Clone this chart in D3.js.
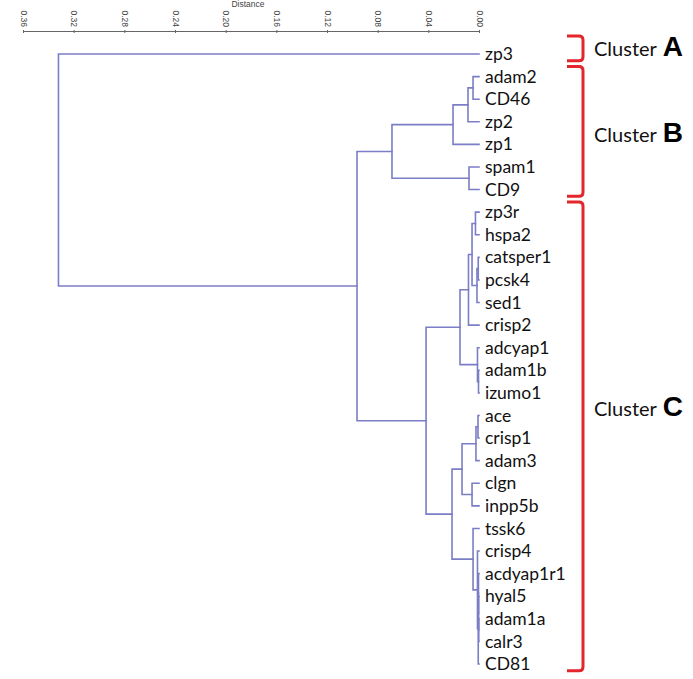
<!DOCTYPE html>
<html>
<head>
<meta charset="utf-8">
<script src="https://cdn.jsdelivr.net/npm/d3@7"></script>
<style>
  html, body { margin: 0; padding: 0; background: #fff; }
  svg { display: block; }
</style>
</head>
<body>
<svg id="chart" width="693" height="679"></svg>
<script>
// ---- data ----
const leaves = ["zp3","adam2","CD46","zp2","zp1","spam1","CD9",
  "zp3r","hspa2","catsper1","pcsk4","sed1","crisp2","adcyap1","adam1b","izumo1",
  "ace","crisp1","adam3","clgn","inpp5b","tssk6","crisp4","acdyap1r1","hyal5","adam1a","calr3","CD81"];

// merges: [node id, left child, right child, distance]
const merges = [
  ["n1","adam2","CD46",0.0047],
  ["n2","n1","zp2",0.0087],
  ["n3","n2","zp1",0.0205],
  ["n4","spam1","CD9",0.0079],
  ["B","n3","n4",0.0687],
  ["c1","zp3r","hspa2",0.0028],
  ["c2","catsper1","pcsk4",0.0006],
  ["c3","c2","sed1",0.0016],
  ["c4","c1","c3",0.0055],
  ["c5","c4","crisp2",0.0083],
  ["c6","adam1b","izumo1",0.0004],
  ["c7","adcyap1","c6",0.0012],
  ["C1","c5","c7",0.0150],
  ["d1","ace","crisp1",0.0008],
  ["d2","d1","adam3",0.0024],
  ["d3","clgn","inpp5b",0.0055],
  ["C2a","d2","d3",0.0134],
  ["e1","adam1a","calr3",0.0002],
  ["e2","hyal5","e1",0.0003],
  ["e3","acdyap1r1","e2",0.0004],
  ["e4","e3","CD81",0.0006],
  ["e5","crisp4","e4",0.0012],
  ["e6","tssk6","e5",0.0047],
  ["C2","C2a","e6",0.0213],
  ["C","C1","C2",0.0418],
  ["BC","B","C",0.0963],
  ["root","zp3","BC",0.332]
];

const axisTicks = [0.36,0.32,0.28,0.24,0.20,0.16,0.12,0.08,0.04,0.00];
const axisTitle = "Distance";

const clusterNames = ["A","B","C"];
const clusterFirst = ["zp3","adam2","zp3r"];
const clusterLast  = ["zp3","CD9","CD81"];

// ---- layout ----
const svg = d3.select("#chart");
const treeColor = "#7b7dc6";
const x = d3.scaleLinear().domain([0, 0.36]).range([479, 23]);
const y = d3.scalePoint().domain(leaves).range([54, 664]);

const pos = {};
leaves.forEach(l => pos[l] = {x: x(0), y: y(l)});
merges.forEach(([id, a, b, h]) => {
  pos[id] = {x: x(h), y: (pos[a].y + pos[b].y) / 2};
});

// ---- axis ----
const axis = d3.axisTop(x).tickValues(axisTicks).tickFormat(d3.format(".2f"))
  .tickSize(3).tickSizeOuter(0);
const gAxis = svg.append("g").attr("transform", "translate(0,31)").call(axis);
gAxis.select(".domain").attr("stroke", "#666").attr("stroke-width", 1);
gAxis.selectAll(".tick line").attr("stroke", "#666").attr("y1", 2).attr("y2", -1);
gAxis.selectAll(".tick text")
  .attr("x", 0).attr("y", 0).attr("dy", "0.35em")
  .attr("transform", "translate(0,-4) rotate(90)")
  .attr("text-anchor", "end")
  .attr("fill", "#444")
  .style("font-family", "'Liberation Sans', Arial, sans-serif")
  .style("font-size", "8.5px");
svg.append("text").attr("x", 248).attr("y", 7).attr("text-anchor", "middle")
  .attr("fill", "#444")
  .style("font-family", "'Liberation Sans', Arial, sans-serif")
  .style("font-size", "8.5px").text(axisTitle);

// ---- tree ----
const line = d3.line();
const gTree = svg.append("g").attr("fill", "none").attr("stroke", treeColor)
  .attr("stroke-width", 1.6).attr("stroke-linecap", "square");
merges.forEach(([id, a, b]) => {
  const p = pos[id], pa = pos[a], pb = pos[b];
  gTree.append("path").attr("d", line([[pa.x, pa.y], [p.x, pa.y], [p.x, pb.y], [pb.x, pb.y]]));
});

// ---- leaf labels ----
svg.append("g").selectAll("text").data(leaves).join("text")
  .attr("x", x(0) + 6).attr("y", d => y(d)).attr("dy", "0.35em")
  .attr("fill", "#111")
  .style("font-family", "Lato, 'Open Sans', sans-serif")
  .style("font-size", "17.5px")
  .text(d => d);

// ---- cluster brackets ----
const step = y.step();
const labelShift = {A: 1, B: 4, C: -27};
clusterNames.forEach((name, i) => {
  const top = y(clusterFirst[i]) - step * (i === 0 ? 0.8 : 0.45);
  const bot = y(clusterLast[i]) + step * 0.3;
  const xl = 567, xr = 583, r = 4;
  svg.append("path")
    .attr("d", `M${xl},${top} L${xr - r},${top} Q${xr},${top} ${xr},${top + r} L${xr},${bot - r} Q${xr},${bot} ${xr - r},${bot} L${xl},${bot}`)
    .attr("fill", "none").attr("stroke", "#e3262b").attr("stroke-width", 3);
  const cy = (top + bot) / 2 + labelShift[name];
  const t = svg.append("text").attr("x", 594).attr("y", cy + 7);
  t.append("tspan").style("font-family", "Lato, 'Open Sans', sans-serif")
    .style("font-size", "20px").attr("fill", "#111").text("Cluster");
  t.append("tspan").attr("dx", 6).style("font-family", "'Liberation Sans', Arial, sans-serif")
    .style("font-size", "28px").style("font-weight", "bold").attr("fill", "#000").text(name);
});
</script>
</body>
</html>
